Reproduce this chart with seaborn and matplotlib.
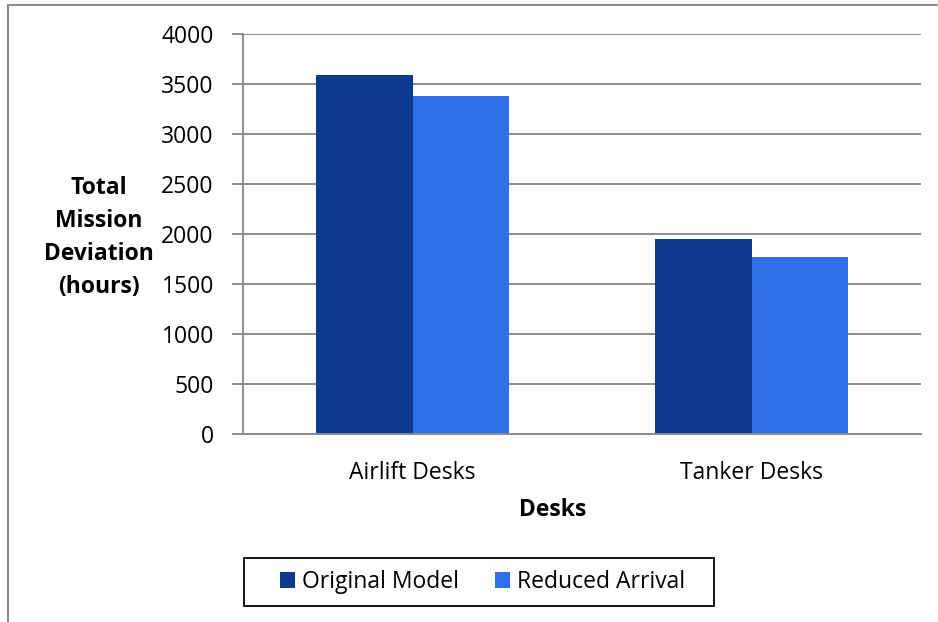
import matplotlib
matplotlib.use("Agg")
import matplotlib.pyplot as plt
from matplotlib.lines import Line2D
from matplotlib.patches import Patch, Rectangle
import seaborn as sns
import pandas as pd

categories = ["Airlift Desks", "Tanker Desks"]
series_names = ["Original Model", "Reduced Arrival"]
original_model = [3590, 1950]
reduced_arrival = [3380, 1770]
y_ticks = [0, 500, 1000, 1500, 2000, 2500, 3000, 3500, 4000]
colors = ["#0C3A90", "#2E6FEA"]

df = pd.DataFrame({
    "Desks": categories * 2,
    "Series": [series_names[0]] * 2 + [series_names[1]] * 2,
    "Value": original_model + reduced_arrival,
})

sns.set_theme(style="white")
plt.rcParams["font.family"] = ["Open Sans", "DejaVu Sans"]
plt.rcParams["text.color"] = "black"
plt.rcParams["xtick.color"] = "black"
plt.rcParams["ytick.color"] = "black"

W, H = 938, 622
FS = 16.5
fig = plt.figure(figsize=(W / 100, H / 100), dpi=100)
ax = fig.add_axes([243 / W, 1 - 434.3 / H, 678 / W, 400 / H])

sns.barplot(data=df, x="Desks", y="Value", hue="Series", palette=colors,
            width=0.569, saturation=1, ax=ax, legend=False, linewidth=0)

ax.set_xlim(-0.5, 1.5)
ax.set_ylim(0, 4000)
ax.set_yticks(y_ticks)
ax.set_yticklabels([str(v) for v in y_ticks], fontsize=FS)
ax.yaxis.grid(True, color="#8C8C8C", linewidth=1.4)
ax.set_axisbelow(True)

# category ticks sit on the boundaries between groups
ax.set_xticks([0, 1])
ax.set_xticklabels(categories, fontsize=FS)
ax.set_xticks([-0.5, 0.5, 1.5], minor=True)
ax.tick_params(axis="x", which="major", length=0, pad=19)
ax.tick_params(axis="x", which="minor", length=8, width=1.4, color="#8C8C8C", direction="out")
ax.tick_params(axis="y", length=8, width=1.4, color="#8C8C8C", labelcolor="black",
               direction="out", pad=13, left=True)

for side in ["top", "right"]:
    ax.spines[side].set_visible(False)
for side in ["left", "bottom"]:
    ax.spines[side].set_color("#8C8C8C")
    ax.spines[side].set_linewidth(1.4)

ax.set_xlabel("")
ax.set_ylabel("")
fig.text(553 / W, 1 - 510 / H, "Desks", ha="center", va="center",
         fontsize=FS, fontweight="bold")
fig.text(99 / W, 1 - 237 / H, "Total\nMission\nDeviation\n(hours)", ha="center",
         va="center", fontsize=FS, fontweight="bold", linespacing=1.5)

# legend entries, with a plain black box drawn around them
handles = [Patch(facecolor=c, edgecolor="none") for c in colors]
leg = fig.legend(handles, series_names, loc="center", bbox_to_anchor=(482.5 / W, 1 - 582 / H),
                 ncol=2, frameon=False, fontsize=FS, handlelength=0.65,
                 handleheight=0.65, handletextpad=0.3, columnspacing=1.57,
                 borderpad=0, borderaxespad=0)
fig.add_artist(Rectangle((244 / W, 1 - 606 / H), 470 / W, 48 / H, transform=fig.transFigure,
                         fill=False, edgecolor="black", linewidth=1.3))

# outer chart-area border (left and top edges)
fig.add_artist(Line2D([7.5 / W, 7.5 / W], [0, 1 - 5.3 / H], color="#888888", linewidth=1.4))
fig.add_artist(Line2D([7.5 / W, 937 / W], [1 - 5.3 / H, 1 - 5.3 / H], color="#888888", linewidth=1.4))

fig.savefig("out.png", dpi=100)
